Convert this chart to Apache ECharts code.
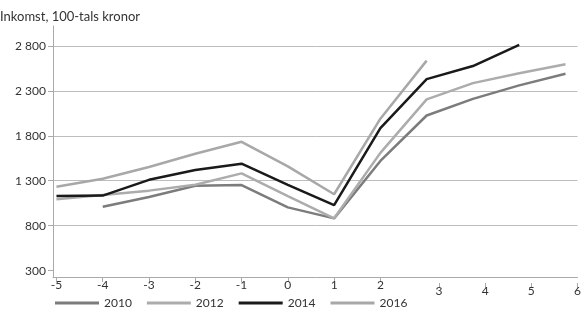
<!DOCTYPE html>
<html>
<head>
<meta charset="utf-8">
<script src="https://cdn.jsdelivr.net/npm/echarts@6/dist/echarts.min.js"></script>
<style>
  html, body { margin: 0; padding: 0; background: #fff; }
  #chart { width: 584px; height: 318px; }
</style>
</head>
<body>
<div id="chart"></div>
<script>
// År relativt händelsen
var xValues = [-5, -4, -3, -2, -1, 0, 1, 2, 3, 4, 5, 6];
var xTicksLeft = [-5, -4, -3, -2, -1, 0, 1, 2];
var xTicksRight = [3, 4, 5, 6];

var yTicks = [300, 800, 1300, 1800, 2300, 2800];
var yTickLabels = ['300', '800', '1 300', '1 800', '2 300', '2 800'];

var years = ['2010', '2012', '2014', '2016'];
var v2010 = [null, 1010, 1120, 1245, 1252, 1004, 882, 1520, 2025, 2210, 2360, 2490];
var v2012 = [1093, 1141, 1190, 1255, 1382, 1130, 882, 1610, 2205, 2385, 2495, 2595];
var v2014 = [1130, 1135, 1310, 1420, 1490, 1255, 1030, 1885, 2430, 2575, 2810, null];
var v2016 = [1233, 1322, 1452, 1600, 1733, 1460, 1150, 1990, 2635, null, null, null];

var colors = ['#7c7c7c', '#acacac', '#1a1a1a', '#a8a8a8'];
var font = 'Lato';

function pairs(vals) {
    return xValues.map(function (x, i) { return [x, vals[i]]; });
}

var chart = echarts.init(document.getElementById('chart'));

var series = [v2010, v2012, v2014, v2016].map(function (vals, i) {
    return {
        name: years[i],
        type: 'line',
        data: pairs(vals),
        showSymbol: false,
        symbol: 'none',
        lineStyle: { color: colors[i], width: 2.5 },
        itemStyle: { color: colors[i] },
        z: i === 2 ? 4 : 3
    };
});

chart.setOption({
    animation: false,
    title: {
        text: 'Inkomst, 100-tals kronor',
        left: 0,
        top: 10,
        padding: 0,
        textStyle: { fontFamily: font, fontSize: 13, fontWeight: 'normal', color: '#333' }
    },
    legend: {
        data: years,
        left: 50,
        bottom: 4,
        icon: 'rect',
        itemWidth: 44,
        itemHeight: 3,
        itemGap: 15,
        textStyle: { fontFamily: font, fontSize: 12, color: '#333' }
    },
    grid: { left: 53, right: 4, top: 26, bottom: 41 },
    xAxis: [
        {
            type: 'value',
            min: -5.075,
            max: 6.26,
            axisLine: { onZero: false, lineStyle: { color: '#aaa' } },
            axisTick: { length: 5, customValues: xTicksLeft, lineStyle: { color: '#aaa' } },
            axisLabel: { customValues: xTicksLeft, margin: 2, fontFamily: font, fontSize: 12, color: '#333' },
            splitLine: { show: false }
        },
        {
            type: 'value',
            position: 'bottom',
            offset: 6,
            min: -5.355,
            max: 6,
            axisLine: { show: false, onZero: false },
            axisTick: { show: true, length: 5, customValues: xTicksRight, lineStyle: { color: '#aaa' } },
            axisLabel: { customValues: xTicksRight, margin: 2, fontFamily: font, fontSize: 12, color: '#333', showMaxLabel: true },
            splitLine: { show: false }
        }
    ],
    yAxis: {
        type: 'value',
        min: 230,
        max: 3020,
        axisLine: { show: true, onZero: false, lineStyle: { color: '#aaa' } },
        axisTick: { show: true, length: 5, customValues: yTicks, lineStyle: { color: '#aaa' } },
        axisLabel: {
            customValues: yTicks,
            margin: 7,
            fontFamily: font,
            fontSize: 12,
            color: '#333',
            formatter: function (v) { return yTickLabels[yTicks.indexOf(v)]; }
        },
        splitLine: {
            show: true,
            lineStyle: { color: ['rgba(0,0,0,0)', '#bdbdbd', '#bdbdbd', '#bdbdbd', '#bdbdbd', '#bdbdbd'], width: 1 }
        }
    },
    series: series
});
</script>
</body>
</html>
